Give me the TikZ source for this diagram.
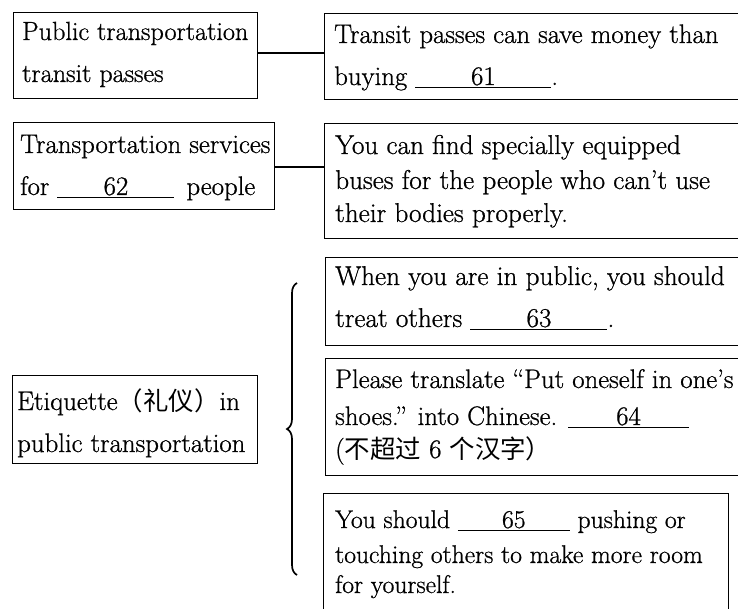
\documentclass[tikz,border=0pt]{standalone}
\usepackage{fontspec}
\setmainfont{Latin Modern Roman}[RawFeature={embolden=0.8}]
\newfontfamily\cjk{Noto Sans CJK SC}[Scale=0.95]
\usetikzlibrary{decorations.pathreplacing}
\newcommand\gapline[2]{\underline{\makebox[#1][c]{#2}}}
\begin{document}
\begin{tikzpicture}[x=1pt,y=-1pt,
  box/.style={draw, line width=1.2pt, anchor=north west, inner sep=0pt},
  txt/.style={anchor=base west, inner sep=0pt, font=\fontsize{26.8}{30}\selectfont},
  txts/.style={txt, font=\fontsize{26.2}{30}\selectfont},
  txtw/.style={txt, font=\fontsize{27.2}{30}\selectfont},
  txtb/.style={txt, font=\fontsize{25.6}{30}\selectfont},
  link/.style={line width=1.2pt},
  bracestyle/.style={line width=1.7pt, decorate, decoration={brace, amplitude=10pt}}]
\useasboundingbox (0,0) rectangle (738,609);
\clip (0,0) rectangle (738,609);
% boxes
\node[box, minimum width=244pt, minimum height=86pt] (b1) at (13,12) {};
\node[box, minimum width=421pt, minimum height=86pt] (b2) at (324,13) {};
\node[box, minimum width=261pt, minimum height=87pt] (b3) at (13,122) {};
\node[box, minimum width=421pt, minimum height=115pt] (b4) at (324,123) {};
\node[box, minimum width=245pt, minimum height=88pt] (b8) at (12,375) {};
\node[box, minimum width=420pt, minimum height=88pt] (b5) at (325,257) {};
\node[box, minimum width=420pt, minimum height=117pt] (b6) at (325,358) {};
\node[box, minimum width=405pt, minimum height=130pt] (b7) at (323,493) {};
% connectors
\coordinate (c1) at (0,53);
\coordinate (c2) at (0,167);
\draw[link] (b1.east |- c1) -- (b2.west |- c1);
\draw[link] (b3.east |- c2) -- (b4.west |- c2);
% brace
\coordinate (brb) at (297,575);
\coordinate (brt) at (297,283);
\draw[bracestyle] (brb) -- (brt);
% texts
\node[txts] (t11) at (22,40) {Public transportation};
\node[txts] (t12) at (22,82) {transit passes};
\node[txt] (t21) at (334,43) {Transit passes can save money than};
\node[txt] (t22) at (334,85) {buying \gapline{136pt}{61}.};
\node[txt] (t31) at (20,153) {Transportation services};
\node[txt] (t32) at (20,195) {for \gapline{117pt}{62}\hspace{12pt}people};
\node[txtw] (t41) at (335,154) {You can find specially equipped};
\node[txtw] (t42) at (335,189) {buses for the people who can't use};
\node[txtw] (t43) at (335,222) {their bodies properly.};
\node[txt] (t81) at (17,410) {Etiquette{\cjk（礼仪）}in};
\node[txt] (t82) at (17,452) {public transportation};
\node[txtw] (t51) at (335,285) {When you are in public, you should};
\node[txtw] (t52) at (335,327) {treat others \gapline{137pt}{63}.};
\node[txt] (t61) at (335,388) {Please translate “Put oneself in one’s};
\node[txt] (t62) at (335,425) {shoes.” into Chinese. \gapline{121pt}{64}};
\node[txt] (t63) at (335,458) {({\cjk 不超过} 6 {\cjk 个汉字）}};
\node[txtb] (t71) at (335,528) {You should \gapline{112pt}{65} pushing or};
\node[txtb] (t72) at (335,563) {touching others to make more room};
\node[txtb] (t73) at (335,593) {for yourself.};
\end{tikzpicture}
\end{document}
